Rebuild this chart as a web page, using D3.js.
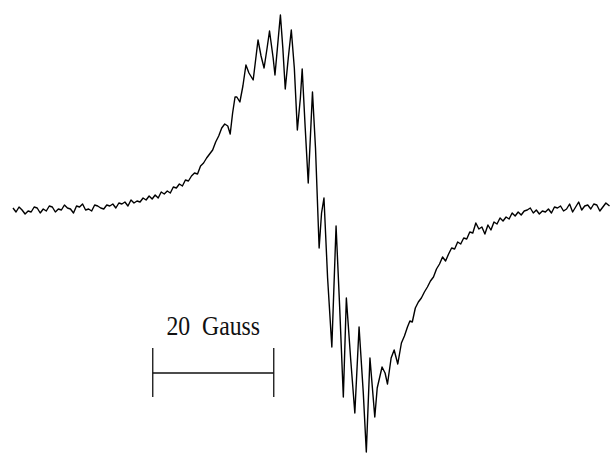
<!DOCTYPE html>
<html>
<head>
<meta charset="utf-8">
<script src="https://cdn.jsdelivr.net/npm/d3@7"></script>
<style>
  html, body { margin: 0; padding: 0; background: #fff; }
  svg { display: block; }
</style>
</head>
<body>
<div id="chart"></div>
<script>
// EPR spectrum, first-derivative trace
// field in Gauss (arbitrary origin), signal in arbitrary units (0 = baseline)
const field = [
  0, 0.5, 1.0, 1.5, 2.0, 2.5, 3.0, 3.5, 4.0, 4.5, 5.0, 5.5, 6.0, 6.5, 7.0, 7.5,
  8.0, 8.5, 9.0, 9.5, 10.0, 10.5, 11.0, 11.5, 12.0, 12.5, 13.0, 13.5, 14.0, 14.5,
  15.0, 15.5, 16.0, 16.5, 17.0, 17.5, 18.0, 18.5, 19.0, 19.5, 20.0, 20.5, 21.0,
  21.5, 22.0, 22.5, 23.0, 23.5, 24.0, 24.5, 25.0, 25.5, 26.0, 26.5, 27.0, 27.5,
  28.0, 28.5, 29.0, 29.5, 30.0, 30.5, 31.0, 31.5, 32.0, 32.5, 33.0, 33.5, 34.0,
  34.5, 35.0, 35.5, 35.9, 36.3, 36.7, 37.0, 37.5, 38.0, 38.5, 39.0, 39.7,
  40.5, 41.0, 41.5, 42.0, 42.4, 43.0, 43.3, 44.0, 44.2, 44.6, 45.0, 45.5, 46.0,
  46.5, 47.0, 47.5, 47.8, 48.3, 48.8, 49.3, 49.5, 50.0, 50.6, 51.0, 51.4, 52.0,
  52.7, 53.4, 54.0, 54.6, 55.1, 55.8, 56.5, 57.2, 57.9, 58.4, 59.0, 59.8, 60.2,
  61.0, 61.5, 61.9, 62.5, 63.0, 63.6, 64.2, 64.7, 65.2, 65.6, 66.0, 66.5, 67.0,
  67.5, 68.0, 68.5, 69.0, 69.5, 70.0, 70.5, 71.0, 71.5, 72.0, 72.5, 73.0, 73.5,
  74.0, 74.5, 75.0, 75.5, 76.0, 76.5, 77.0, 77.5, 78.0, 78.5, 79.0, 79.5, 80.0,
  80.5, 81.0, 81.5, 82.0, 82.5, 83.0, 83.5, 84.0, 84.5, 85.0, 85.5, 86.0, 86.5,
  87.0, 87.5, 88.0, 88.5, 89.0, 89.5, 90.0, 90.5, 91.0, 91.5, 92.0, 92.5, 93.0,
  93.5, 94.0, 94.5, 95.0, 95.5, 96.0, 96.5, 97.0, 97.5, 98.0, 98.6
];
const signal = [
  0, -4, 1, -2, -6, -3, -4, 1, 0, -5, -1, -3, 2, 1, -4, -1,
  -2, 3, 0, -1, -5, 2, 1, 4, -2, -1, -3, 3, 2, 0,
  -1, 3, 2, 4, 0, 5, 4, 6, 2, 8, 5, 7, 6,
  10, 8, 12, 9, 13, 10, 16, 14, 17, 15, 21, 20, 24,
  22, 28, 27, 32, 35, 34, 42, 45, 50, 54, 58, 66, 72,
  80, 84, 82, 74, 95, 111, 111, 106, 122, 143, 135, 128,
  168, 152, 140, 160, 177, 150, 133, 180, 193, 160, 119, 150, 178,
  140, 78, 110, 139, 80, 25, 90, 116, 60, -40, -5, 10, -70,
  -139, -18, -100, -189, -90, -150, -205, -119, -185, -244, -150, -209, -180,
  -159, -165, -176, -150, -142, -156, -135, -128, -119, -113, -114, -100, -94,
  -90, -84, -79, -73, -69, -61, -56, -49, -53, -46, -40, -41, -34,
  -36, -30, -31, -24, -25, -15, -21, -19, -26, -17, -22, -14, -16,
  -10, -13, -9, -11, -5, -8, -4, -7, -3, -2, 0, -5, -2,
  -6, -3, -4, -1, -5, 1, 0, 2, -3, -1, 4, -4, 1,
  6, -2, 2, 3, -1, 4, 3, -3, 1, 5, 2, 4
];

// 20 G scale bar
const barStart = 23.1;
const barLength = 20;
const barLabel = '20  Gauss';

const W = 611, H = 453;

const svg = d3.select('#chart').append('svg')
  .attr('width', W).attr('height', H)
  .attr('viewBox', `0 0 ${W} ${H}`);

const x = d3.scaleLinear().domain([0, 100]).range([13, 618]);
const y = d3.scaleLinear().domain([-250, 200]).range([458, 8]);

const pts = field.map((f, i) => [f, signal[i]]);

svg.append('path')
  .datum(pts)
  .attr('fill', 'none')
  .attr('stroke', '#000')
  .attr('stroke-width', 1.4)
  .attr('stroke-linejoin', 'round')
  .attr('d', d3.line().x(d => x(d[0])).y(d => y(d[1])));

// scale bar
const gBar = svg.append('g').attr('stroke', '#111').attr('stroke-width', 1.3);
gBar.append('line')
  .attr('x1', x(barStart)).attr('x2', x(barStart + barLength))
  .attr('y1', y(-165)).attr('y2', y(-165));
[barStart, barStart + barLength].forEach(b => {
  gBar.append('line')
    .attr('x1', x(b)).attr('x2', x(b))
    .attr('y1', y(-140)).attr('y2', y(-189));
});

// label, slightly tall like the original typesetting
const lx = x(barStart + barLength / 2), ly = y(-127);
svg.append('text')
  .attr('transform', `translate(${lx},${ly}) scale(0.95,1.12)`)
  .attr('text-anchor', 'middle')
  .attr('font-family', 'Liberation Serif, Times New Roman, serif')
  .attr('font-size', 25)
  .attr('fill', '#111')
  .style('white-space', 'pre')
  .text(barLabel);
</script>
</body>
</html>
